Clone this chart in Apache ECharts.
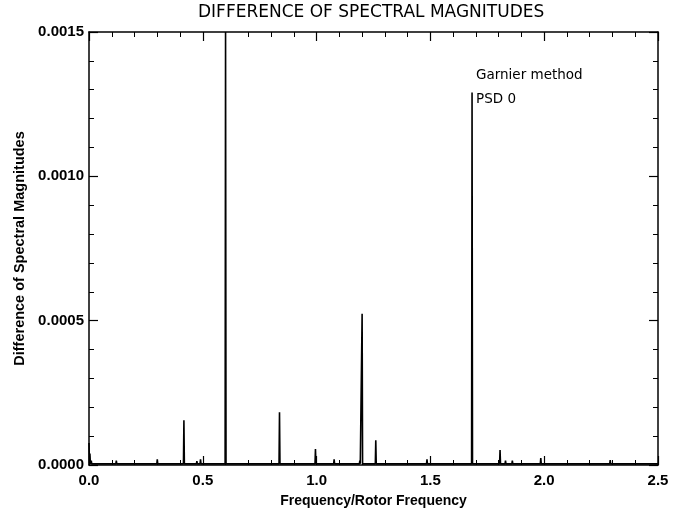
<!DOCTYPE html>
<html><head><meta charset="utf-8">
<script src="https://cdn.jsdelivr.net/npm/echarts@6/dist/echarts.min.js"></script>
<style>html,body{margin:0;padding:0;background:#fff}#c{width:673px;height:513px}</style>
</head><body><div id="c"></div>
<script>
// Peak frequencies (Frequency/Rotor Frequency) and magnitudes
var peakFreqs = [0.000, 0.004, 0.010, 0.100, 0.120, 0.200, 0.240, 0.300, 0.417, 0.474, 0.490, 0.600, 0.655, 0.690, 0.790, 0.837, 0.887, 0.995, 1.077, 1.130, 1.190, 1.200, 1.260, 1.287, 1.385, 1.440, 1.485, 1.587, 1.683, 1.785, 1.806, 1.830, 1.860, 1.885, 1.985, 2.090, 2.190, 2.290, 2.385];
var peakValues = [0.000076, 0.000040, 0.000015, 0.000007, 0.000015, 0.000008, 0.000009, 0.000020, 0.000155, 0.000013, 0.000020, 0.001500, 0.000010, 0.000009, 0.000008, 0.000183, 0.000010, 0.000055, 0.000020, 0.000009, 0.000015, 0.000524, 0.000086, 0.000010, 0.000008, 0.000009, 0.000020, 0.000008, 0.001290, 0.000010, 0.000052, 0.000015, 0.000015, 0.000010, 0.000024, 0.000008, 0.000007, 0.000017, 0.000008];
var baseline = 0.000004;
var xTicks = [0.0, 0.5, 1.0, 1.5, 2.0, 2.5];
var yTicks = [0.0000, 0.0005, 0.0010, 0.0015];

var spectrum = [];
for (var i = 0; i < peakFreqs.length; i++) {
  var f = peakFreqs[i];
  if (f > 0) spectrum.push([f - 0.002, baseline]);
  spectrum.push([f, peakValues[i]]);
  spectrum.push([f + 0.002, baseline]);
}
spectrum.push([2.5, baseline]);

var lblFont = {color:'#000', fontFamily:'Liberation Sans', fontWeight:'bold', fontSize:15};
var chart = echarts.init(document.getElementById('c'), null, {renderer:'canvas'});
function axisCommon(extra){
  return Object.assign({
    axisLine:{show:true, onZero:false, lineStyle:{color:'#000', width:1.5}},
    axisTick:{show:true, inside:true, length:9, lineStyle:{color:'#000', width:1.2}},
    minorTick:{show:true, splitNumber:5, length:5, lineStyle:{color:'#000', width:1}},
    splitLine:{show:false}
  }, extra);
}
chart.setOption({
  animation:false,
  backgroundColor:'#fff',
  title:{text:'DIFFERENCE OF SPECTRAL MAGNITUDES', top:4, padding:0, left:198,
    textStyle:{fontFamily:'DejaVu Sans', fontWeight:'normal', fontSize:17, color:'#000'}},
  grid:{left:89, right:15, top:32, bottom:46},
  xAxis:[
    axisCommon({type:'value', min:xTicks[0], max:xTicks[xTicks.length-1], interval:0.5,
      name:'Frequency/Rotor Frequency', nameLocation:'middle', nameGap:29,
      nameTextStyle:{color:'#000', fontFamily:'Liberation Sans', fontWeight:'bold', fontSize:14},
      axisLabel:Object.assign({margin:8, formatter:function(v){return v.toFixed(1);}}, lblFont)}),
    axisCommon({type:'value', position:'top', min:xTicks[0], max:xTicks[xTicks.length-1], interval:0.5,
      axisLabel:{show:false}})
  ],
  yAxis:[
    axisCommon({type:'value', min:yTicks[0], max:yTicks[yTicks.length-1], interval:0.0005,
      name:'Difference of Spectral Magnitudes', nameLocation:'middle', nameGap:60,
      nameTextStyle:{color:'#000', fontFamily:'Liberation Sans', fontWeight:'bold', fontSize:14.5},
      axisLabel:Object.assign({margin:5, formatter:function(v){return v.toFixed(4);}}, lblFont)}),
    axisCommon({type:'value', position:'right', min:yTicks[0], max:yTicks[yTicks.length-1], interval:0.0005,
      axisLabel:{show:false}})
  ],
  graphic:[
    {type:'text', left:476, top:68, style:{text:'Garnier method', fill:'#000', font:'13.5px "DejaVu Sans"'}},
    {type:'text', left:476, top:92, style:{text:'PSD 0', fill:'#000', font:'13.5px "DejaVu Sans"'}}
  ],
  series:[{type:'line', data:spectrum, showSymbol:false, clip:true,
    lineStyle:{color:'#000', width:1.6}}]
});
</script></body></html>
